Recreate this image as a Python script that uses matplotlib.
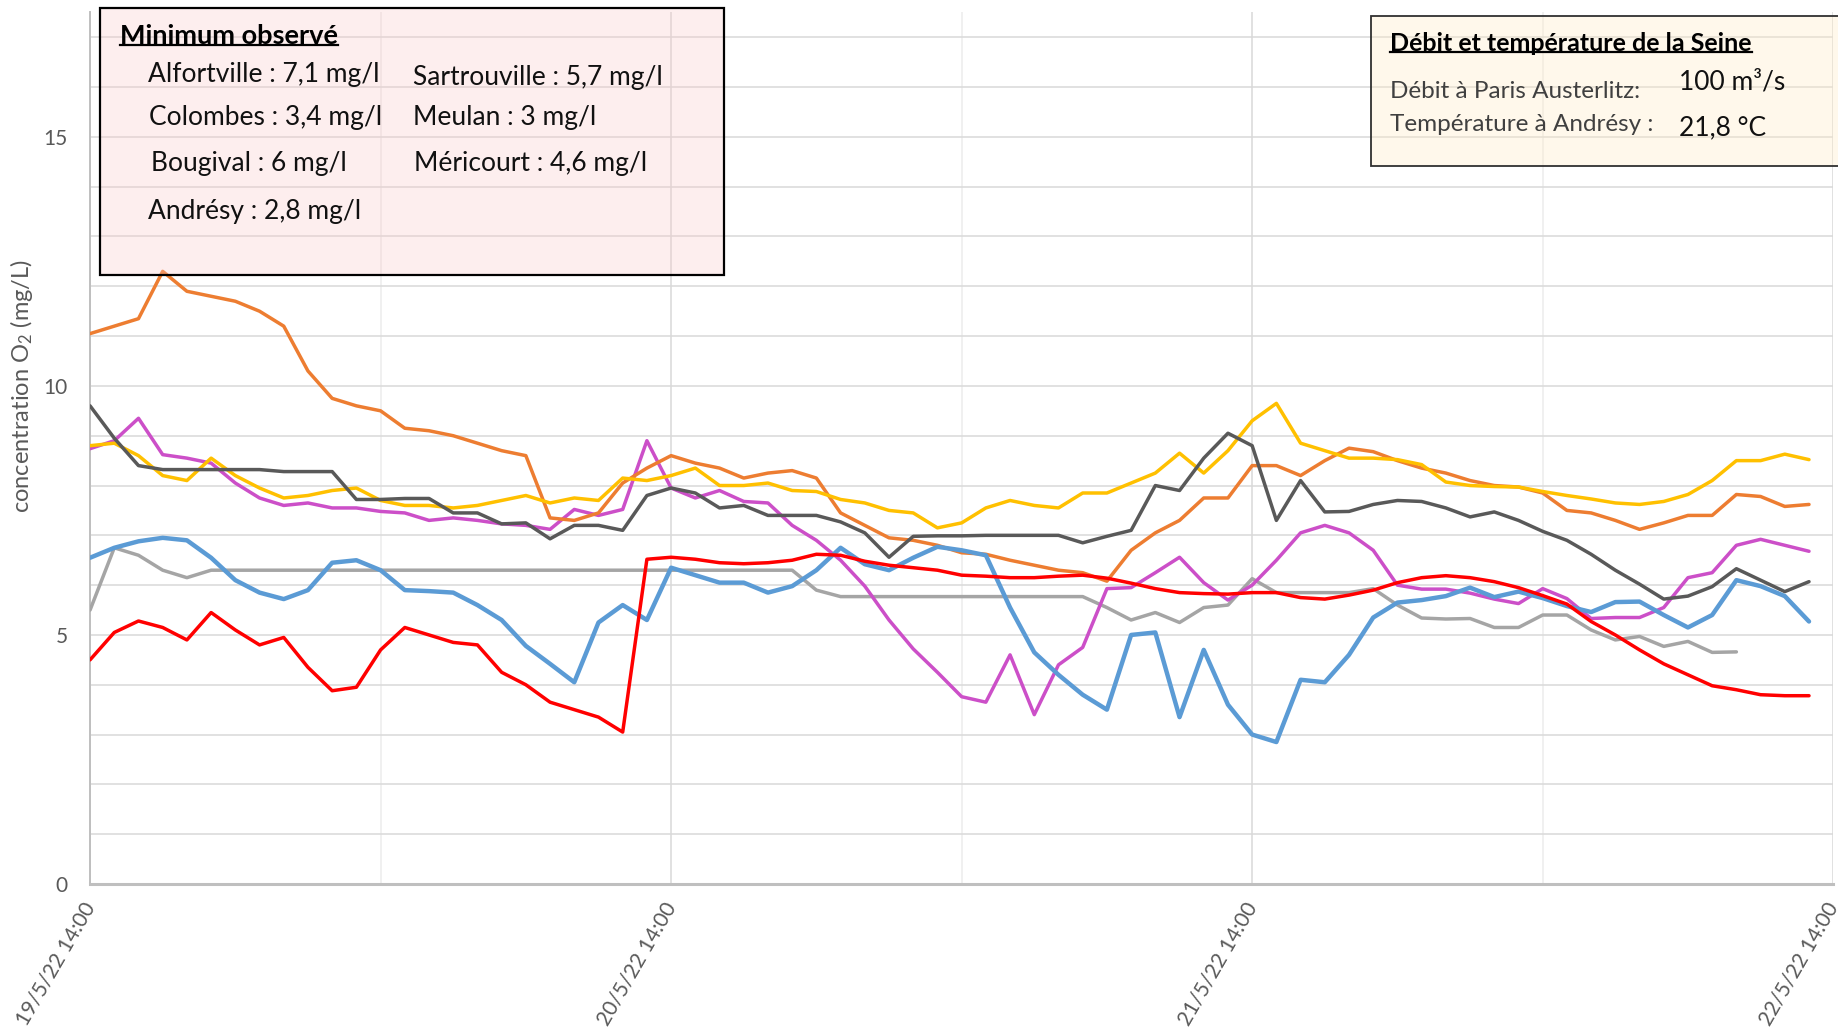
import numpy as np
import matplotlib
matplotlib.use("Agg")
import matplotlib.pyplot as plt
from matplotlib.patches import Rectangle
from matplotlib.lines import Line2D

plt.rcParams["font.family"] = ["Lato", "DejaVu Sans"]
plt.rcParams["mathtext.default"] = "regular"

# hours since 19/5/22 14:00, one reading per hour
hours = list(range(72))

tick_labels = ["19/5/22 14:00", "20/5/22 14:00", "21/5/22 14:00", "22/5/22 14:00"]

# Bougival
orange = [11.05, 11.2, 11.35, 12.3, 11.9, 11.8, 11.7, 11.5, 11.2, 10.3, 9.75, 9.6,
          9.5, 9.15, 9.1, 9.0, 8.85, 8.7, 8.6, 7.35, 7.3, 7.45, 8.05, 8.35,
          8.6, 8.45, 8.35, 8.15, 8.25, 8.3, 8.15, 7.45, 7.2, 6.95, 6.9, 6.8,
          6.65, 6.62, 6.5, 6.4, 6.3, 6.25, 6.08, 6.7, 7.05, 7.3, 7.75, 7.75,
          8.4, 8.4, 8.2, 8.5, 8.75, 8.68, 8.5, 8.35, 8.25, 8.1, 8.0, 7.97,
          7.85, 7.5, 7.45, 7.3, 7.12, 7.25, 7.4, 7.4, 7.82, 7.78, 7.58, 7.62]
# Alfortville
yellow = [8.8, 8.85, 8.6, 8.2, 8.1, 8.55, 8.2, 7.95, 7.75, 7.8, 7.9, 7.95,
          7.7, 7.6, 7.6, 7.55, 7.6, 7.7, 7.8, 7.65, 7.75, 7.7, 8.15, 8.1,
          8.2, 8.35, 8.0, 8.0, 8.05, 7.9, 7.88, 7.72, 7.65, 7.5, 7.45, 7.15,
          7.25, 7.55, 7.7, 7.6, 7.55, 7.85, 7.85, 8.05, 8.25, 8.65, 8.25, 8.7,
          9.3, 9.65, 8.85, 8.7, 8.55, 8.55, 8.52, 8.42, 8.07, 8.0, 7.98, 7.97,
          7.88, 7.8, 7.73, 7.65, 7.62, 7.68, 7.82, 8.1, 8.5, 8.5, 8.63, 8.52]
# Sartrouville
dark = [9.6, 8.95, 8.4, 8.32, 8.32, 8.32, 8.32, 8.32, 8.28, 8.28, 8.28, 7.72,
        7.72, 7.74, 7.74, 7.45, 7.45, 7.23, 7.25, 6.93, 7.2, 7.2, 7.1, 7.8,
        7.95, 7.85, 7.55, 7.6, 7.4, 7.4, 7.4, 7.27, 7.05, 6.56, 6.98, 6.99,
        6.99, 7.0, 7.0, 7.0, 7.0, 6.85, 6.98, 7.1, 8.0, 7.9, 8.55, 9.05,
        8.8, 7.3, 8.1, 7.47, 7.48, 7.62, 7.7, 7.68, 7.55, 7.37, 7.47, 7.3,
        7.08, 6.9, 6.62, 6.3, 6.02, 5.72, 5.78, 5.97, 6.33, 6.1, 5.87, 6.07]
# Colombes
magenta = [8.74, 8.9, 9.35, 8.62, 8.55, 8.45, 8.05, 7.75, 7.6, 7.65, 7.55, 7.55,
           7.48, 7.45, 7.3, 7.35, 7.3, 7.23, 7.2, 7.12, 7.52, 7.4, 7.52, 8.9,
           7.95, 7.75, 7.9, 7.68, 7.65, 7.2, 6.9, 6.5, 5.98, 5.3, 4.72, 4.25,
           3.76, 3.65, 4.6, 3.4, 4.4, 4.75, 5.93, 5.95, 6.25, 6.56, 6.05, 5.7,
           6.0, 6.5, 7.05, 7.2, 7.05, 6.7, 6.0, 5.92, 5.92, 5.84, 5.72, 5.63,
           5.93, 5.73, 5.33, 5.35, 5.35, 5.55, 6.15, 6.25, 6.8, 6.92, 6.8, 6.68]
# Andrésy
blue = [6.55, 6.75, 6.88, 6.95, 6.9, 6.55, 6.1, 5.85, 5.72, 5.9, 6.45, 6.5,
        6.3, 5.9, 5.88, 5.85, 5.6, 5.3, 4.78, 4.42, 4.05, 5.25, 5.6, 5.3,
        6.35, 6.2, 6.05, 6.05, 5.85, 5.98, 6.3, 6.75, 6.42, 6.3, 6.55, 6.77,
        6.7, 6.6, 5.55, 4.65, 4.2, 3.8, 3.5, 5.0, 5.05, 3.35, 4.7, 3.6,
        3.0, 2.85, 4.1, 4.05, 4.6, 5.35, 5.65, 5.7, 5.78, 5.95, 5.76, 5.87,
        5.74, 5.58, 5.46, 5.66, 5.67, 5.4, 5.15, 5.4, 6.1, 5.98, 5.78, 5.27]
# Méricourt (series stops earlier)
light = [5.5, 6.75, 6.6, 6.3, 6.15, 6.3, 6.3, 6.3, 6.3, 6.3, 6.3, 6.3,
         6.3, 6.3, 6.3, 6.3, 6.3, 6.3, 6.3, 6.3, 6.3, 6.3, 6.3, 6.3,
         6.3, 6.3, 6.3, 6.3, 6.3, 6.3, 5.9, 5.77, 5.77, 5.77, 5.77, 5.77,
         5.77, 5.77, 5.77, 5.77, 5.77, 5.77, 5.55, 5.3, 5.45, 5.25, 5.55, 5.6,
         6.13, 5.85, 5.85, 5.85, 5.85, 5.93, 5.6, 5.34, 5.32, 5.33, 5.15, 5.15,
         5.4, 5.4, 5.1, 4.9, 4.97, 4.77, 4.87, 4.65, 4.66]
# Meulan
red = [4.5, 5.05, 5.28, 5.15, 4.9, 5.45, 5.1, 4.8, 4.95, 4.35, 3.88, 3.95,
       4.7, 5.15, 5.0, 4.85, 4.8, 4.25, 4.0, 3.65, 3.5, 3.35, 3.05, 6.52,
       6.56, 6.52, 6.45, 6.43, 6.45, 6.5, 6.62, 6.6, 6.48, 6.4, 6.35, 6.3,
       6.2, 6.18, 6.15, 6.15, 6.18, 6.2, 6.14, 6.04, 5.93, 5.85, 5.83, 5.82,
       5.85, 5.85, 5.75, 5.72, 5.8, 5.9, 6.05, 6.15, 6.19, 6.15, 6.07, 5.95,
       5.79, 5.62, 5.27, 5.0, 4.7, 4.42, 4.2, 3.98, 3.9, 3.8, 3.78, 3.78]

series = [
    (light, "#A5A5A5", 2.5),
    (magenta, "#CC4FC8", 2.5),
    (orange, "#ED7D31", 2.5),
    (yellow, "#FFC000", 2.5),
    (dark, "#595959", 2.5),
    (blue, "#5B9BD5", 3.2),
    (red, "#FF0000", 2.5),
]

minima = [
    ("Alfortville : 7,1 mg/l", 0.0805, 0.928),
    ("Colombes : 3,4 mg/l", 0.081, 0.886),
    ("Bougival : 6 mg/l", 0.082, 0.841),
    ("Andrésy : 2,8 mg/l", 0.0805, 0.795),
    ("Sartrouville : 5,7 mg/l", 0.2247, 0.925),
    ("Meulan : 3 mg/l", 0.2247, 0.886),
    ("Méricourt : 4,6 mg/l", 0.2253, 0.841),
]

fig = plt.figure(figsize=(18.38, 10.31), dpi=100)
ax = fig.add_axes([0.049, 0.1426, 0.9484, 0.8454])

for vals, col, lw in series:
    ax.plot(hours[:len(vals)], vals, color=col, lw=lw, solid_joinstyle="round",
            solid_capstyle="round", zorder=3)

ax.set_xlim(0, 72)
ax.set_ylim(0, 17.5)
ax.set_yticks([0, 5, 10, 15])
ax.set_yticks(range(18), minor=True)
ax.set_xticks([0, 24, 48, 72])
ax.set_xticks([12, 36, 60], minor=True)
ax.set_xticklabels(tick_labels, rotation=60, ha="right", va="center",
                   rotation_mode="anchor", fontsize=15, color="#595959")
ax.tick_params(axis="x", which="both", length=0, pad=14)
ax.tick_params(axis="y", which="both", length=0, pad=16, labelsize=15, labelcolor="#595959")

ax.grid(axis="y", which="both", color="#D9D9D9", lw=1.1, zorder=0)
ax.grid(axis="x", which="major", color="#D9D9D9", lw=1.1, zorder=0)
ax.grid(axis="x", which="minor", color="#ECECEC", lw=1.1, zorder=0)
ax.set_axisbelow(True)

for s in ("top", "right"):
    ax.spines[s].set_visible(False)
ax.spines["left"].set_color("#BFBFBF")
ax.spines["left"].set_linewidth(1.4)
ax.spines["bottom"].set_color("#BFBFBF")
ax.spines["bottom"].set_linewidth(2.2)

ax.set_ylabel("concentration O$_2$ (mg/L)", fontsize=17, color="#595959")
ax.yaxis.set_label_coords(-0.0316, 0.571)

# boxes
fig.add_artist(Rectangle((0.0544, 0.7333), 0.3395, 0.2589, transform=fig.transFigure,
                         facecolor=(0.98, 0.78, 0.78, 0.3), edgecolor="black",
                         lw=1.6, zorder=5))
fig.add_artist(Rectangle((0.746, 0.839), 0.26, 0.1455, transform=fig.transFigure,
                         facecolor=(1.0, 0.92, 0.78, 0.35), edgecolor="#303030",
                         lw=1.3, zorder=5))

titles = []
titles.append(fig.text(0.0653, 0.965, "Minimum observé", fontsize=19.5, fontweight="bold",
                       va="center", ha="left", color="black", zorder=6))
for txt, x, y in minima:
    fig.text(x, y, txt, fontsize=19, va="center", ha="left", color="#111111", zorder=6)

titles.append(fig.text(0.7563, 0.958, "Débit et température de la Seine", fontsize=18,
                       fontweight="bold", va="center", ha="left", color="black", zorder=6))
fig.text(0.7563, 0.9115, "Débit à Paris Austerlitz:", fontsize=17.5, va="center",
         ha="left", color="#404040", zorder=6)
fig.text(0.7563, 0.8797, "Température à Andrésy :", fontsize=17.5, va="center",
         ha="left", color="#404040", zorder=6)
fig.text(0.9135, 0.920, "100 m³/s", fontsize=19, va="center", ha="left", color="#111111", zorder=6)
fig.text(0.9135, 0.876, "21,8 °C", fontsize=19, va="center", ha="left", color="#111111", zorder=6)

# underline the two box titles
fig.canvas.draw()
r = fig.canvas.get_renderer()
inv = fig.transFigure.inverted()
for t in titles:
    bb = t.get_window_extent(r)
    (x0, y0), (x1, _) = inv.transform([(bb.x0, bb.y0 + 3), (bb.x1, bb.y0 + 3)])
    fig.add_artist(Line2D([x0, x1], [y0, y0], transform=fig.transFigure,
                          color="black", lw=1.6, zorder=6))

fig.savefig("out.png", dpi=100)
